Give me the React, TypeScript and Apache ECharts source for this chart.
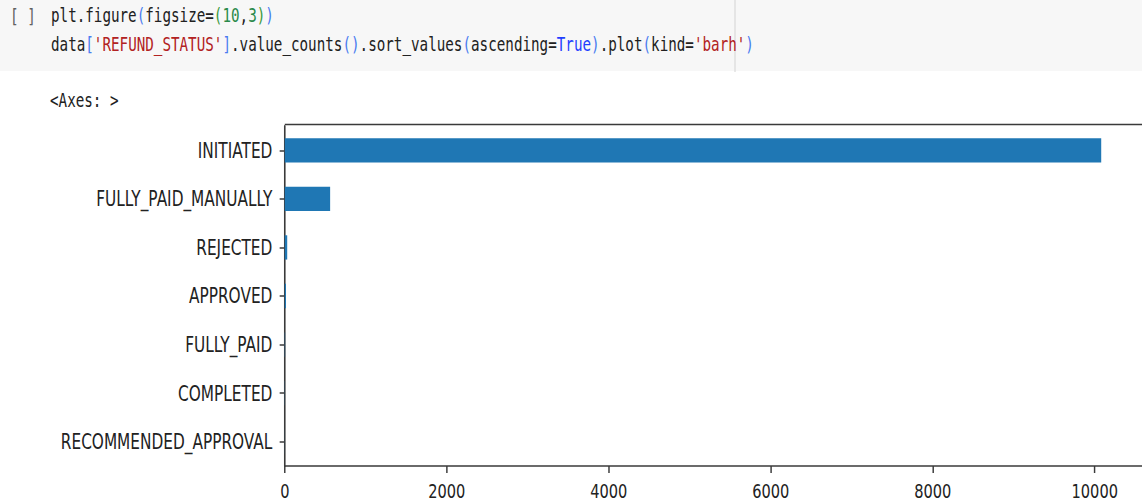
import React, { useEffect, useRef } from "react";
import * as echarts from "echarts";

// ---- data ----
const categories = [
  "RECOMMENDED_APPROVAL",
  "COMPLETED",
  "FULLY_PAID",
  "APPROVED",
  "REJECTED",
  "FULLY_PAID_MANUALLY",
  "INITIATED",
];
const counts = [1, 2, 4, 15, 30, 560, 10080];
const xTicks = [0, 2000, 4000, 6000, 8000, 10000];
const xMax = 10584;

const codeLine1: [string, string][] = [
  ["plt.figure", "t"],
  ["(", "b1"],
  ["figsize=", "t"],
  ["(", "b2"],
  ["10", "n"],
  [",", "t"],
  ["3", "n"],
  [")", "b2"],
  [")", "b1"],
];
const codeLine2: [string, string][] = [
  ["data", "t"],
  ["[", "b1"],
  ["'REFUND_STATUS'", "s"],
  ["]", "b1"],
  [".value_counts", "t"],
  ["()", "b1"],
  [".sort_values", "t"],
  ["(", "b1"],
  ["ascending=", "t"],
  ["True", "k"],
  [")", "b1"],
  [".plot", "t"],
  ["(", "b1"],
  ["kind=", "t"],
  ["'barh'", "s"],
  [")", "b1"],
];
const outputText = "<Axes: >";

const SX = 0.7302; // horizontal squeeze of the screenshot
const W = 1564;
const H = 502;
const ux = (x: number) => x / SX;

const MONO = "'DejaVu Sans Mono', monospace";
const SANS = "'DejaVu Sans', sans-serif";
const CODE_SIZE = 19.5;

const richStyles = {
  t: { fill: "#212121", fontFamily: MONO, fontSize: CODE_SIZE },
  b1: { fill: "#4a7cf0", fontFamily: MONO, fontSize: CODE_SIZE },
  b2: { fill: "#3c9a3c", fontFamily: MONO, fontSize: CODE_SIZE },
  n: { fill: "#2a8a4a", fontFamily: MONO, fontSize: CODE_SIZE },
  s: { fill: "#b22222", fontFamily: MONO, fontSize: CODE_SIZE },
  k: { fill: "#1f3fff", fontFamily: MONO, fontSize: CODE_SIZE },
};

const toRich = (segs: [string, string][]) =>
  segs.map(([txt, st]) => `{${st}|${txt}}`).join("");

export default function App() {
  const ref = useRef<HTMLDivElement>(null);
  useEffect(() => {
    if (!ref.current) return;
    const chart = echarts.init(ref.current, undefined, { renderer: "svg" });
    const axisColor = "#3a3a3a";
    chart.setOption({
      animation: false,
      backgroundColor: "#ffffff",
      grid: { left: 390, right: -9, top: 126, bottom: 36, containLabel: false },
      xAxis: {
        type: "value",
        min: 0,
        max: xMax,
        interval: 2000,
        axisLine: { show: true, lineStyle: { color: axisColor, width: 1.6 } },
        axisTick: { show: true, length: 7, lineStyle: { color: axisColor, width: 2 } },
        splitLine: { show: false },
        axisLabel: {
          showMaxLabel: false,
          margin: 15,
          fontFamily: SANS,
          fontSize: 20,
          color: "#222",
          formatter: (v: number) => (xTicks.includes(v) ? String(v) : ""),
        },
      },
      yAxis: {
        type: "category",
        data: categories,
        axisLine: { show: true, lineStyle: { color: axisColor, width: 2.2 } },
        axisTick: {
          show: true,
          alignWithLabel: true,
          length: 7,
          lineStyle: { color: axisColor, width: 1.5 },
        },
        axisLabel: {
          margin: 17,
          fontFamily: SANS,
          fontSize: 21,
          color: "#222",
        },
      },
      series: [
        {
          type: "bar",
          data: counts,
          barWidth: "50%",
          itemStyle: { color: "#1f77b4" },
        },
      ],
      graphic: [
        {
          type: "rect",
          silent: true,
          z: -10,
          shape: { x: 0, y: 0, width: W, height: 71 },
          style: { fill: "#f7f7f7" },
        },
        {
          type: "line",
          silent: true,
          shape: { x1: ux(735), y1: 0, x2: ux(735), y2: 72 },
          style: { stroke: "#d4d4d4", lineWidth: 1.4 },
        },
        {
          // top spine of the axes box
          type: "line",
          silent: true,
          shape: { x1: 390, y1: 124.5, x2: W, y2: 124.5 },
          style: { stroke: axisColor, lineWidth: 1.6 },
        },
        {
          type: "text",
          x: ux(10),
          y: 16,
          style: {
            text: "[ ]",
            fill: "#616161",
            font: `${CODE_SIZE}px ${MONO}`,
            verticalAlign: "middle",
          },
        },
        {
          type: "text",
          x: ux(51),
          y: 15,
          style: {
            text: toRich(codeLine1),
            rich: richStyles,
            verticalAlign: "middle",
          },
        },
        {
          type: "text",
          x: ux(51),
          y: 44,
          style: {
            text: toRich(codeLine2),
            rich: richStyles,
            verticalAlign: "middle",
          },
        },
        {
          type: "text",
          x: ux(50),
          y: 100,
          style: {
            text: outputText,
            fill: "#212121",
            font: `${CODE_SIZE}px ${MONO}`,
            verticalAlign: "middle",
          },
        },
      ],
    });
    return () => chart.dispose();
  }, []);

  return (
    <div
      style={{
        position: "fixed",
        left: 0,
        top: 0,
        width: 1142,
        height: H,
        overflow: "hidden",
        background: "#fff",
      }}
    >
      <div
        ref={ref}
        style={{
          width: W,
          height: H,
          transform: `scaleX(${SX})`,
          transformOrigin: "0 0",
        }}
      />
    </div>
  );
}
